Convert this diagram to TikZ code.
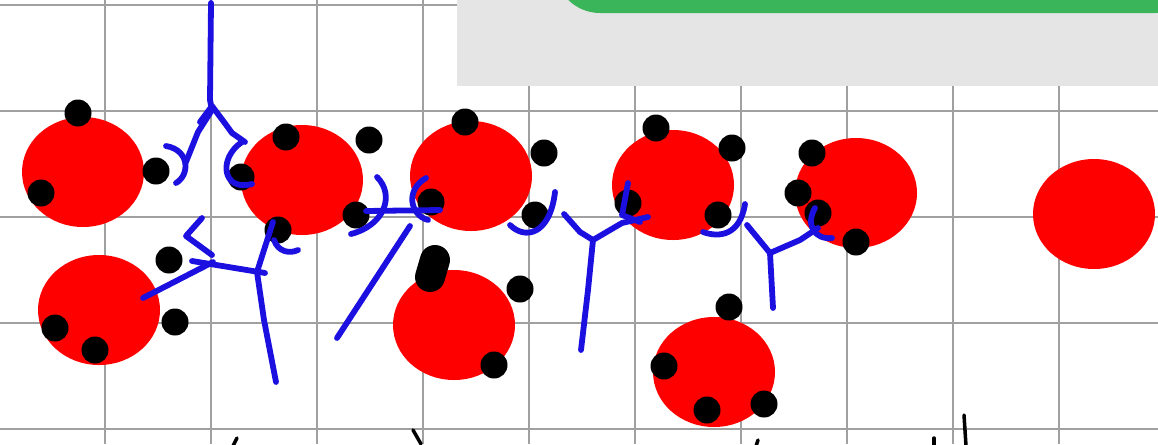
\documentclass[tikz,border=0pt]{standalone}
\usepackage{tikz}
\definecolor{gridgray}{RGB}{160,160,160}
\definecolor{panelgray}{RGB}{229,229,229}
\definecolor{bargreen}{RGB}{59,181,90}
\definecolor{chainblue}{RGB}{28,16,225}
\tikzset{
  rejilla/.style={draw=gridgray, line width=1.1pt},
  particula/.style={fill=red},
  carga/.style={fill=black},
  cadena/.style={draw=chainblue, line width=3.3pt, line cap=round, line join=round},
  trazo/.style={draw=black, line width=2pt, line cap=round}
}

\begin{document}
\begin{tikzpicture}[x=0.02cm, y=-0.02cm]
    \useasboundingbox (0,0) rectangle (1158,444);
    \clip (0,0) rectangle (1158,444);

    % 1. Cuadricula
    \foreach \gx in {105,211,317,423,529,635,741,847,953,1059} {
        \draw[rejilla] (\gx,0) -- (\gx,444);
    }
    \foreach \gy in {5,111,217,323,429} {
        \draw[rejilla] (0,\gy) -- (1158,\gy);
    }

    % 2. Panel gris y barra verde
    \fill[panelgray] (457,-2) rectangle (1160,86);
    \fill[bargreen, rounded corners=0.9cm] (555,-80) rectangle (1200,13);

    % 3. Particulas rojas
    \foreach \px/\py in {83/172, 99/310, 302/180, 471/176, 454/325,
                         673/185, 856/193, 714/372, 1094/214} {
        \fill[particula] (\px,\py) ellipse [x radius=61, y radius=55];
    }

    % 4. Cargas negras
    \foreach \cx/\cy in {78/113, 41/193, 156/171,
                         169/260, 175/322, 55/328, 95/350,
                         286/137, 369/140, 241/177, 356/215, 278/230,
                         465/122, 544/153, 431/202, 535/215,
                         520/289, 494/365,
                         656/128, 732/148, 628/203, 718/215,
                         812/153, 798/193, 818/213, 856/242,
                         729/307, 664/366, 707/410, 764/404} {
        \fill[carga] (\cx,\cy) circle [radius=13.5];
    }
    % carga alargada
    \draw[black, line width=0.6cm, line cap=round] (435,260) -- (430,277);

    % 5. Cadenas azules
    % arriba a la izquierda
    \draw[cadena] (211,3) -- (210,100) -- (212,110);
    \draw[cadena] (200,122) -- (212,106) -- (224,122) -- (232,133) -- (245,142);
    \draw[cadena] (212,110) -- (198,132) -- (186,162);
    \draw[cadena] (166,146) .. controls (190,150) and (190,175) .. (176,183);
    \draw[cadena] (242,142) .. controls (218,158) and (222,192) .. (252,184);
    % abajo a la izquierda
    \draw[cadena] (143,298) -- (213,262);
    \draw[cadena] (192,261) -- (265,273);
    \draw[cadena] (202,218) -- (186,236) -- (212,255);
    \draw[cadena] (273,222) -- (264,250) -- (257,272) -- (264,320) -- (276,382);
    \draw[cadena] (274,240) .. controls (278,252) and (290,254) .. (298,250);
    % entre la segunda y la tercera
    \draw[cadena] (377,177) .. controls (395,195) and (385,225) .. (351,234);
    \draw[cadena] (366,211) -- (440,210);
    \draw[cadena] (426,178) .. controls (405,190) and (410,215) .. (428,220);
    \draw[cadena] (410,226) -- (337,338);
    % centro
    \draw[cadena] (510,225) .. controls (525,240) and (550,235) .. (555,192);
    \draw[cadena] (564,214) -- (580,232) -- (593,240);
    \draw[cadena] (593,240) -- (588,290) -- (581,350);
    \draw[cadena] (593,240) -- (622,223) -- (648,217);
    \draw[cadena] (628,183) -- (622,215) -- (640,222);
    % derecha
    \draw[cadena] (703,232) .. controls (720,238) and (740,235) .. (745,204);
    \draw[cadena] (747,225) -- (770,253);
    \draw[cadena] (770,253) -- (773,308);
    \draw[cadena] (770,253) -- (800,240) -- (818,228);
    \draw[cadena] (815,208) .. controls (805,225) and (815,240) .. (832,238);

    % 6. Trazos inferiores
    \draw[trazo] (233,446) -- (237,438);
    \draw[trazo] (413,430) -- (421,444);
    \draw[trazo] (756,446) -- (758,440);
    \draw[trazo] (934,438) -- (934,446);
    \draw[trazo] (964,415) -- (966,446);

\end{tikzpicture}
\end{document}
